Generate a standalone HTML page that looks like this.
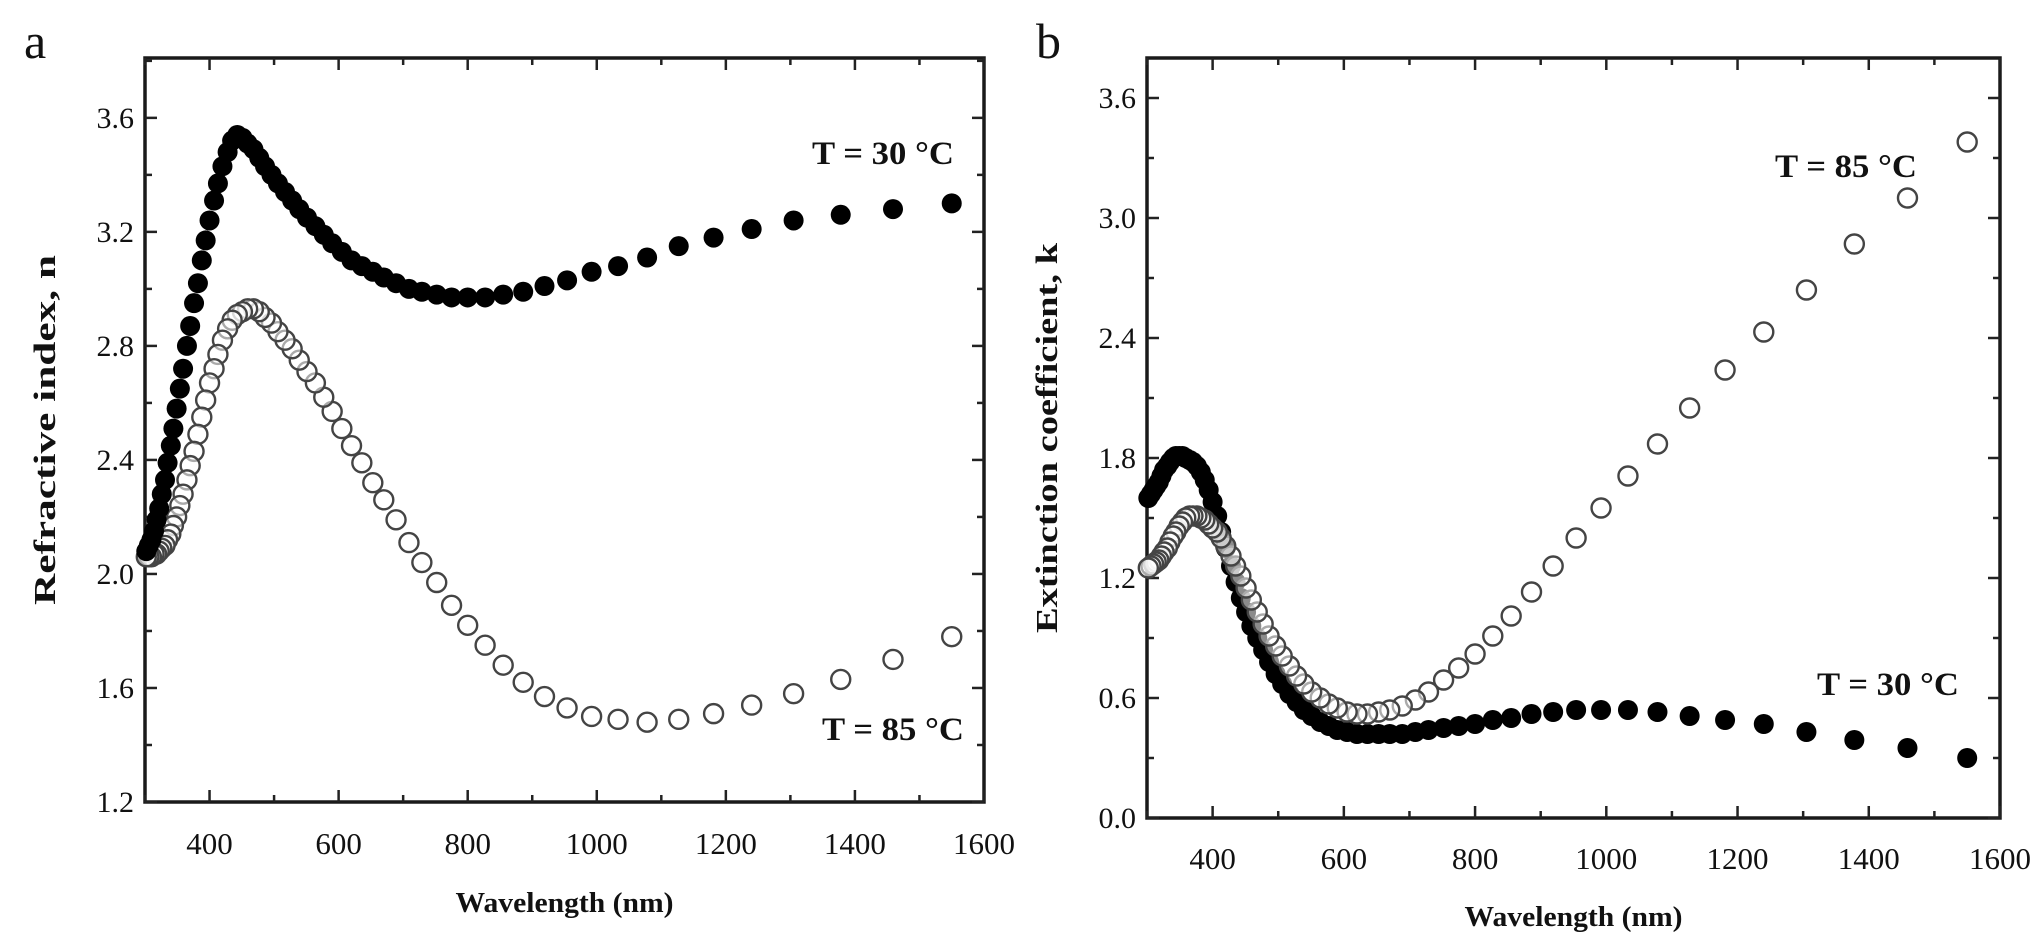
<!DOCTYPE html>
<html><head><meta charset="utf-8"><style>
html,body{margin:0;padding:0;background:#fff;overflow:hidden}
svg{display:block}
text{font-family:"Liberation Serif",serif;fill:#111}
</style></head><body>
<svg id="fig" width="2042" height="950" viewBox="0 0 2042 950">
<text x="24" y="58" font-size="50">a</text>
<text x="1036" y="58" font-size="50">b</text>
<g id="pa"></g>
<g id="pb"></g>
</svg>
<script>
const wavelengths=[1550,1459,1378,1305,1240,1181,1127,1078,1033,992,954,919,886,855,827,800,775,752,729,709,689,670,653,636,620,605,590,577,564,551,539,528,517,506,496,486,477,468,459,451,443,435,428,420,413,407,400,394,388,382,376,370,365,359,354,349,344,340,335,331,326,322,318,314,310,306,302];
const n30=[3.30,3.28,3.26,3.24,3.21,3.18,3.15,3.11,3.08,3.06,3.03,3.01,2.99,2.98,2.97,2.97,2.97,2.98,2.99,3.00,3.02,3.04,3.06,3.08,3.10,3.13,3.16,3.19,3.22,3.25,3.28,3.31,3.34,3.37,3.40,3.43,3.46,3.49,3.51,3.53,3.54,3.52,3.48,3.43,3.37,3.31,3.24,3.17,3.10,3.02,2.95,2.87,2.80,2.72,2.65,2.58,2.51,2.45,2.39,2.33,2.28,2.23,2.19,2.15,2.12,2.10,2.08];
const n85=[1.78,1.70,1.63,1.58,1.54,1.51,1.49,1.48,1.49,1.50,1.53,1.57,1.62,1.68,1.75,1.82,1.89,1.97,2.04,2.11,2.19,2.26,2.32,2.39,2.45,2.51,2.57,2.62,2.67,2.71,2.75,2.79,2.82,2.85,2.88,2.90,2.92,2.93,2.93,2.92,2.91,2.89,2.86,2.82,2.77,2.72,2.67,2.61,2.55,2.49,2.43,2.38,2.33,2.28,2.24,2.20,2.17,2.14,2.12,2.10,2.09,2.08,2.07,2.07,2.06,2.06,2.06];
const k30=[0.30,0.35,0.39,0.43,0.47,0.49,0.51,0.53,0.54,0.54,0.54,0.53,0.52,0.50,0.49,0.47,0.46,0.45,0.44,0.43,0.42,0.42,0.42,0.42,0.42,0.43,0.44,0.46,0.48,0.51,0.54,0.58,0.62,0.67,0.72,0.78,0.84,0.90,0.96,1.03,1.10,1.18,1.26,1.35,1.43,1.51,1.58,1.64,1.69,1.73,1.76,1.78,1.79,1.80,1.81,1.81,1.81,1.80,1.78,1.76,1.74,1.71,1.68,1.66,1.64,1.62,1.60];
const k85=[3.38,3.10,2.87,2.64,2.43,2.24,2.05,1.87,1.71,1.55,1.40,1.26,1.13,1.01,0.91,0.82,0.75,0.69,0.63,0.59,0.56,0.54,0.53,0.52,0.52,0.53,0.55,0.57,0.60,0.63,0.67,0.71,0.76,0.81,0.86,0.91,0.97,1.03,1.09,1.15,1.21,1.26,1.31,1.36,1.40,1.43,1.45,1.47,1.49,1.50,1.51,1.51,1.51,1.50,1.48,1.46,1.43,1.41,1.38,1.35,1.33,1.31,1.29,1.28,1.27,1.26,1.25];
const xTicks=[400,600,800,1000,1200,1400,1600];
const nTicks=["1.2","1.6","2.0","2.4","2.8","3.2","3.6"];
const kTicks=["0.0","0.6","1.2","1.8","2.4","3.0","3.6"];

const NS="http://www.w3.org/2000/svg";
function mk(parent,tag,attrs,txt){const e=document.createElementNS(NS,tag);for(const k in attrs)e.setAttribute(k,attrs[k]);if(txt!==undefined)e.textContent=txt;parent.appendChild(e);return e;}

function panel(g,cfg){
  const {L,R,T,B,ymin,ymax,ystep,yminor,yticks,ytitle,ytitleLen,lblRight,xlblY,xtitleY,ytitleX,series,notes}=cfg;
  const sx=v=>L+(v-300)/(1600-300)*(R-L);
  const sy=v=>B-(v-ymin)/(ymax-ymin)*(B-T);
  const fr=mk(g,'rect',{x:L,y:T,width:R-L,height:B-T,fill:'none',stroke:'#1a1a1a','stroke-width':3.5});
  
  
  for(let v=300;v<=1600;v+=100){
    const x=sx(v);const len=(v%200===0)?12:7;
    mk(g,'line',{x1:x,y1:B,x2:x,y2:B-len,stroke:'#222','stroke-width':2.5});
    mk(g,'line',{x1:x,y1:T,x2:x,y2:T+len,stroke:'#222','stroke-width':2.5});
  }
  xTicks.forEach(v=>{
    const t=mk(g,'text',{x:sx(v),y:xlblY,'font-size':31,'text-anchor':'middle'},String(v));
    
    
  });
  const y0=parseFloat(yticks[0]);
  for(let v=ymin;v<=ymax+1e-6;v+=yminor){
    const y=sy(v);const r=(v-y0)/ystep;const major=Math.abs(r-Math.round(r))<1e-3;const len=major?12:7;
    mk(g,'line',{x1:L,y1:y,x2:L+len,y2:y,stroke:'#222','stroke-width':2.5});
    mk(g,'line',{x1:R,y1:y,x2:R-len,y2:y,stroke:'#222','stroke-width':2.5});
  }
  yticks.forEach(s=>{
    const t=mk(g,'text',{x:lblRight,y:sy(parseFloat(s))+10,'font-size':30,'text-anchor':'end'},s);
    
    
  });
  const xt=mk(g,'text',{x:(L+R)/2,y:xtitleY,'font-size':28,'font-weight':'bold','text-anchor':'middle',textLength:218,lengthAdjust:'spacingAndGlyphs'},'Wavelength (nm)');
  
  
  const cy=(T+B)/2;
  const yt=mk(g,'text',{x:ytitleX,y:cy,'font-size':31,'font-weight':'bold','text-anchor':'middle',textLength:ytitleLen,lengthAdjust:'spacingAndGlyphs',transform:`rotate(-90 ${ytitleX} ${cy})`},ytitle);
  
  
  series.forEach(s=>{
    const sg=mk(g,'g',{});
    
    
    wavelengths.forEach((w,i)=>{
      const c=mk(sg,'circle',{cx:sx(w),cy:sy(s.vals[i]),r:s.filled?10:9.5,fill:s.filled?'#000':'#fff','fill-opacity':s.filled?1:0.55,stroke:s.filled?'#000':'#444','stroke-width':s.filled?0:2.4});
      
      
    });
  });
  notes.forEach(n=>{
    const t=mk(g,'text',{x:n.x,y:n.y,'font-size':33,'font-weight':'bold',textLength:142,lengthAdjust:'spacingAndGlyphs'},n.t);
    
    
  });
}
panel(document.getElementById('pa'),{L:145,R:984,T:58,B:802,ymin:1.2,ymax:3.81,ystep:0.4,yminor:0.2,yticks:nTicks,ytitle:'Refractive  index, n',ytitleLen:350,lblRight:134,xlblY:854,xtitleY:912,ytitleX:55,
  series:[{name:'series-n-85C',vals:n85,filled:false},{name:'series-n-30C',vals:n30,filled:true}],
  notes:[{t:'T = 30 °C',x:812,y:164,name:'label-30C'},{t:'T = 85 °C',x:822,y:740,name:'label-85C'}]});
panel(document.getElementById('pb'),{L:1147,R:2000,T:58,B:818,ymin:0,ymax:3.8,ystep:0.6,yminor:0.3,yticks:kTicks,ytitle:'Extinction coefficient, k',ytitleLen:390,lblRight:1136,xlblY:869,xtitleY:926,ytitleX:1057,
  series:[{name:'series-k-30C',vals:k30,filled:true},{name:'series-k-85C',vals:k85,filled:false}],
  notes:[{t:'T = 85 °C',x:1775,y:177,name:'label-85C'},{t:'T = 30 °C',x:1817,y:695,name:'label-30C'}]});
</script>
</body></html>
